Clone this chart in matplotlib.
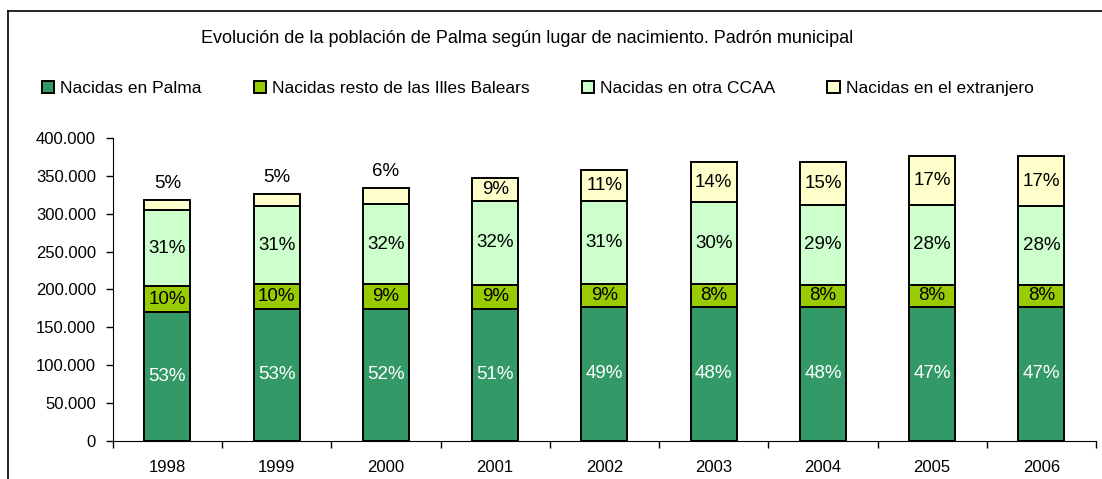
import matplotlib.pyplot as plt
from matplotlib.lines import Line2D

plt.rcParams['font.family'] = ['Liberation Sans', 'DejaVu Sans']

years = ['1998', '1999', '2000', '2001', '2002', '2003', '2004', '2005', '2006']
series = ['Nacidas en Palma', 'Nacidas resto de las Illes Balears',
          'Nacidas en otra CCAA', 'Nacidas en el extranjero']

# population by birthplace
palma = [169700, 174000, 174000, 174000, 176700, 176700, 176700, 176700, 176700]
baleares = [34700, 32700, 32700, 31800, 30000, 30000, 29500, 29500, 29500]
otra_ccaa = [100100, 103100, 106100, 111400, 110500, 108400, 105700, 105700, 103600]
extranjero = [13600, 16200, 20700, 29600, 40100, 52800, 56000, 64300, 66400]

# percentage labels shown on the chart
pct_palma = [53, 53, 52, 51, 49, 48, 48, 47, 47]
pct_baleares = [10, 10, 9, 9, 9, 8, 8, 8, 8]
pct_otra = [31, 31, 32, 32, 31, 30, 29, 28, 28]
pct_extr = [5, 5, 6, 9, 11, 14, 15, 17, 17]

colors = ['#339966', '#99CC00', '#CCFFCC', '#FFFFCC']
text_colors = ['white', 'black', 'black', 'black']

fig = plt.figure(figsize=(11.02, 4.79), dpi=100)
ax = fig.add_axes([0.1023, 0.0800, 0.8923, 0.6319])

x = range(len(years))
data = [palma, baleares, otra_ccaa, extranjero]
pcts = [pct_palma, pct_baleares, pct_otra, pct_extr]
bottom = [0] * len(years)
handles = []
for vals, pc, col, tc, name in zip(data, pcts, colors, text_colors, series):
    bars = ax.bar(x, vals, bottom=bottom, width=0.42, color=col,
                  edgecolor='black', linewidth=1.4, label=name)
    handles.append(bars)
    for i, (v, p) in enumerate(zip(vals, pc)):
        if v < 25000:
            ax.annotate(f'{p}%', (i, bottom[i] + v), xytext=(0, 12),
                        textcoords='offset points', ha='center', va='center',
                        fontsize=13.5, color=tc)
        else:
            ax.text(i, bottom[i] + v / 2, f'{p}%', ha='center', va='center',
                    fontsize=13.5, color=tc)
    bottom = [b + v for b, v in zip(bottom, vals)]

ax.set_xlim(-0.5, len(years) - 0.5)
ax.set_ylim(0, 400000)
ax.set_yticks(range(0, 400001, 50000))
ax.set_yticklabels(['0'] + [f'{v // 1000}.000' for v in range(50000, 400001, 50000)])
ax.set_xticks(list(x))
ax.set_xticklabels(years)
ax.set_xticks([i - 0.5 for i in range(len(years) + 1)], minor=True)
ax.tick_params(axis='x', which='major', length=0, pad=14, labelsize=12)
ax.tick_params(axis='x', which='minor', length=5, direction='out', width=1)
ax.tick_params(axis='y', length=5, direction='out', width=1, pad=7, labelsize=12)
ax.spines['top'].set_visible(False)
ax.spines['right'].set_visible(False)

fig.text(0.478, 0.920, 'Evolución de la población de Palma según lugar de nacimiento. Padrón municipal',
         ha='center', va='center', fontsize=13)

leg = fig.legend(handles=handles, loc='center', bbox_to_anchor=(0.488, 0.816),
                 ncol=4, frameon=False, fontsize=12.5, handlelength=0.7,
                 handleheight=0.7, handletextpad=0.35, columnspacing=3.0)

# outer chart frame
fig.add_artist(Line2D([8 / 1102, 8 / 1102], [0, 1 - 10.5 / 479], color='black', lw=1.2))
fig.add_artist(Line2D([8 / 1102, 1], [1 - 10.5 / 479, 1 - 10.5 / 479], color='black', lw=1.2))

fig.savefig('out.png', dpi=100)
